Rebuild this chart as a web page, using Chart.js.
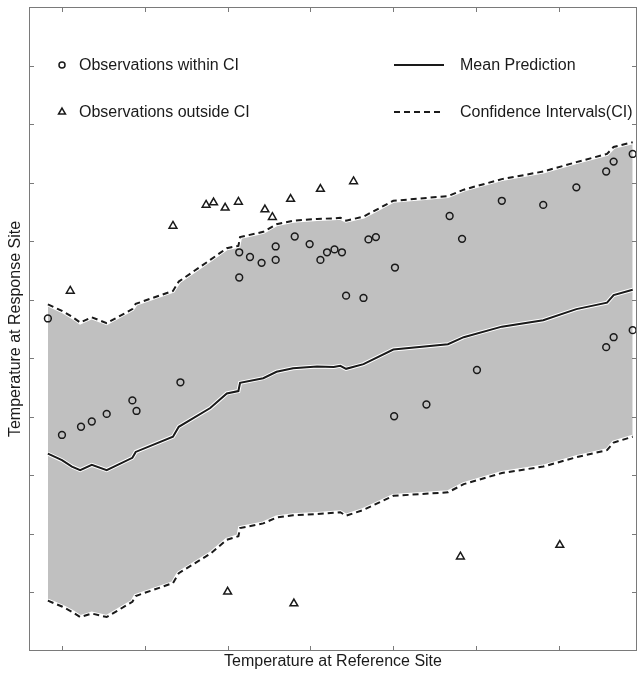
<!DOCTYPE html>
<html>
<head>
<meta charset="utf-8">
<script src="https://cdn.jsdelivr.net/npm/chart.js@4.4.1/dist/chart.umd.min.js"></script>
<style>
  html,body{margin:0;padding:0;background:#fff;overflow:hidden;}
  #wrap{width:639px;height:676px;}
  canvas{display:block;}
</style>
</head>
<body>
<div id="wrap"><canvas id="c" width="639" height="676"></canvas></div>
<script>
/* ---- data (axis units: x ticks 0..6, y ticks 0..11) ---- */
const ciX    = [-0.17, 0.00, 0.12, 0.22, 0.36, 0.54, 0.85, 0.89, 1.34, 1.41, 1.79, 1.99, 2.13, 2.15, 2.43, 2.59, 2.79, 3.08, 3.28, 3.36, 3.43, 3.64, 4.00, 4.66, 4.85, 5.31, 5.81, 6.21, 6.58, 6.66, 6.89];
const meanY  = [3.37, 3.26, 3.15, 3.09, 3.18, 3.09, 3.30, 3.40, 3.66, 3.83, 4.15, 4.40, 4.44, 4.58, 4.66, 4.77, 4.83, 4.86, 4.85, 4.87, 4.82, 4.90, 5.15, 5.24, 5.36, 5.54, 5.65, 5.84, 5.95, 6.08, 6.17];
const upperY = [5.92, 5.81, 5.71, 5.61, 5.70, 5.60, 5.84, 5.93, 6.15, 6.31, 6.68, 6.88, 6.92, 7.07, 7.16, 7.29, 7.35, 7.38, 7.39, 7.40, 7.35, 7.42, 7.69, 7.77, 7.88, 8.06, 8.19, 8.35, 8.49, 8.61, 8.69];
const lowerY = [0.86, 0.76, 0.67, 0.58, 0.64, 0.58, 0.84, 0.94, 1.16, 1.33, 1.66, 1.90, 1.96, 2.10, 2.18, 2.28, 2.32, 2.34, 2.36, 2.37, 2.31, 2.41, 2.65, 2.71, 2.85, 3.04, 3.15, 3.31, 3.43, 3.56, 3.66];

const circX = [-0.17, 0.00, 0.23, 0.36, 0.54, 0.85, 0.90, 1.43, 2.14, 2.14, 2.27, 2.41, 2.58, 2.58, 2.81, 2.99, 3.12, 3.20, 3.29, 3.38, 3.43, 3.64, 3.70, 3.79, 4.02, 4.01, 4.40, 4.68, 4.83, 5.01, 5.31, 5.81, 6.21, 6.57, 6.57, 6.66, 6.66, 6.89, 6.89];
const circY = [5.68, 3.69, 3.83, 3.92, 4.05, 4.28, 4.10, 4.59, 6.81, 6.38, 6.73, 6.63, 6.91, 6.68, 7.08, 6.95, 6.68, 6.81, 6.86, 6.81, 6.07, 6.03, 7.03, 7.07, 6.55, 4.01, 4.21, 7.43, 7.04, 4.80, 7.69, 7.62, 7.92, 8.19, 5.19, 8.36, 5.36, 8.49, 5.48];

const triX = [0.10, 1.34, 1.74, 1.83, 1.97, 2.13, 2.45, 2.54, 2.76, 3.12, 3.52, 2.00, 2.80, 4.81, 6.01];
const triY = [6.15, 7.26, 7.62, 7.66, 7.57, 7.67, 7.54, 7.41, 7.72, 7.89, 8.02, 1.01, 0.81, 1.61, 1.81];

const legendLabels = ['Observations within CI', 'Observations outside CI', 'Mean Prediction', 'Confidence Intervals(CI)'];
const xTitle = 'Temperature at Reference Site';
const yTitle = 'Temperature at Response Site';

const FONT = '"Liberation Sans", Arial, Helvetica, sans-serif';
const BOX = '#7a7a7a';
const INK = '#1a1a1a';
const FILL = '#c0c0c0';
const DASH = [6, 4];

function pts(xs, ys){ return xs.map((x,i)=>({x, y: ys[i]})); }

/* box + inward ticks + legend, drawn on top */
const frame = {
  id: 'frame',
  afterDraw(chart){
    const {ctx, chartArea:a, scales:{x, y}} = chart;
    ctx.save();
    ctx.strokeStyle = BOX;
    ctx.lineWidth = 1;
    ctx.strokeRect(a.left + 0.5, a.top + 0.5, a.right - a.left - 1, a.bottom - a.top - 1);
    ctx.beginPath();
    x.ticks.forEach(t=>{
      const px = Math.round(x.getPixelForValue(t.value)) + 0.5;
      ctx.moveTo(px, a.bottom); ctx.lineTo(px, a.bottom - 5);
      ctx.moveTo(px, a.top);    ctx.lineTo(px, a.top + 5);
    });
    y.ticks.forEach(t=>{
      if(t.value <= y.min || t.value >= y.max) return;
      const py = Math.round(y.getPixelForValue(t.value)) + 0.5;
      ctx.moveTo(a.left, py);  ctx.lineTo(a.left + 5, py);
      ctx.moveTo(a.right, py); ctx.lineTo(a.right - 5, py);
    });
    ctx.stroke();

    // legend
    ctx.font = '16px ' + FONT;
    ctx.textBaseline = 'middle';
    ctx.textAlign = 'left';
    ctx.strokeStyle = INK;
    ctx.lineWidth = 1.5;
    ctx.fillStyle = 'rgba(0,0,0,0)';
    Chart.helpers.drawPoint(ctx, {pointStyle:'circle', radius:3, rotation:0, borderWidth:1.5}, 62, 65);
    ctx.fillStyle = 'rgba(0,0,0,0)';
    Chart.helpers.drawPoint(ctx, {pointStyle:'triangle', radius:4, rotation:0, borderWidth:1.5}, 62, 112);

    ctx.lineWidth = 2;
    ctx.beginPath(); ctx.moveTo(394, 65); ctx.lineTo(444, 65); ctx.stroke();
    ctx.setLineDash(DASH);
    ctx.beginPath(); ctx.moveTo(394, 112); ctx.lineTo(444, 112); ctx.stroke();
    ctx.setLineDash([]);
    ctx.fillStyle = INK;
    ctx.fillText(legendLabels[0], 79, 66);
    ctx.fillText(legendLabels[1], 79, 113);
    ctx.fillText(legendLabels[2], 460, 66);
    ctx.fillText(legendLabels[3], 460, 113);
    ctx.restore();
  }
};

const line = (data, color, width, dash, extra) => Object.assign({
  type: 'line', data, borderColor: color, borderWidth: width, borderDash: dash || [],
  pointRadius: 0, tension: 0, fill: false
}, extra || {});

new Chart(document.getElementById('c'), {
  type: 'scatter',
  data: {
    datasets: [
      { data: pts(circX, circY), pointStyle: 'circle', pointRadius: 3.4, borderColor: INK, borderWidth: 1.5, backgroundColor: 'rgba(0,0,0,0)' },
      { data: pts(triX, triY), pointStyle: 'triangle', pointRadius: 4.5, borderColor: INK, borderWidth: 1.5, backgroundColor: 'rgba(0,0,0,0)' },
      line(pts(ciX, meanY), INK, 2),
      line(pts(ciX, upperY), INK, 2, DASH),
      line(pts(ciX, lowerY), INK, 2, DASH),
      line(pts(ciX, meanY), '#ffffff', 4),
      line(pts(ciX, upperY), '#ffffff', 4, [], { fill: 7, backgroundColor: FILL }),
      line(pts(ciX, lowerY), '#ffffff', 4)
    ]
  },
  options: {
    responsive: false,
    animation: false,
    devicePixelRatio: 1,
    layout: { autoPadding: false, padding: { top: 7, right: 2, left: 0, bottom: 0 } },
    plugins: {
      legend: { display: false },
      tooltip: { enabled: false },
      filler: { drawTime: 'beforeDatasetsDraw' }
    },
    scales: {
      x: {
        type: 'linear', min: -0.398, max: 6.942,
        ticks: { stepSize: 1, includeBounds: false, display: false },
        grid: { display: false }, border: { display: false },
        title: { display: true, text: xTitle, color: INK, font: { family: FONT, size: 16, lineHeight: 1.2 }, padding: { top: 0, bottom: 4.4 } },
        afterFit(s){ s.height = 25; }
      },
      y: {
        type: 'linear', min: 0, max: 11,
        ticks: { stepSize: 1, display: false },
        grid: { display: false }, border: { display: false },
        title: { display: true, text: yTitle, color: INK, font: { family: FONT, size: 16, lineHeight: 1.2 }, padding: { top: 6.4, bottom: 0 } },
        afterFit(s){ s.width = 29; }
      }
    }
  },
  plugins: [frame]
});
</script>
</body>
</html>
